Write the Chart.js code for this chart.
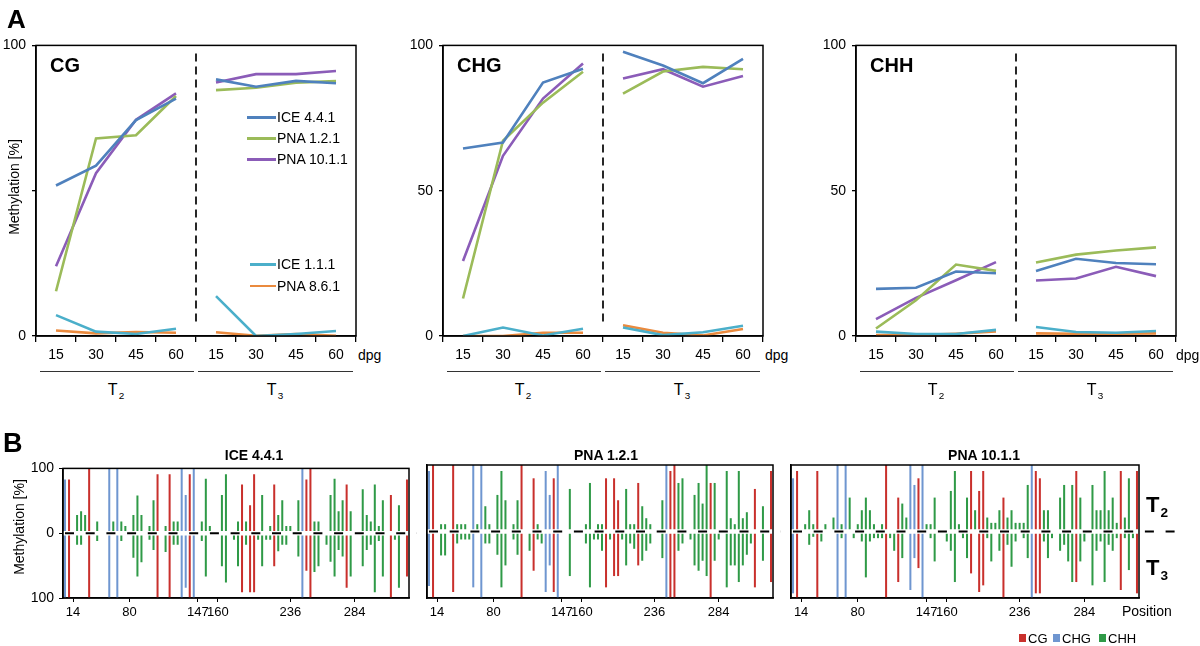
<!DOCTYPE html>
<html lang="en">
<head>
<meta charset="UTF-8">
<title>Methylation</title>
<script src="https://cdn.jsdelivr.net/npm/chart.js"></script>
<style>
    body {
        margin: 0;
        background: #fff;
        font-family: 'Liberation Sans', Arial, sans-serif;
        color: #000;
    }
    #page {
        position: relative;
        width: 1200px;
        height: 646px;
        overflow: hidden;
    }
    .box { position: absolute; }
    .txt { position: absolute; white-space: nowrap; }
    .sub { font-size: 0.62em; position: relative; top: 0.38em; margin-left: 1px; }
    .key { position: absolute; }
</style>
</head>
<body>
<div id="page">
    <div class="box" style="left:0px;top:31px;width:358px;height:335px"><canvas id="cg"></canvas></div>
    <div class="box" style="left:407px;top:31px;width:358px;height:335px"><canvas id="chg"></canvas></div>
    <div class="box" style="left:820px;top:31px;width:358px;height:335px"><canvas id="chh"></canvas></div>
    <div class="box" style="left:27px;top:455px;width:392px;height:165px"><canvas id="b1"></canvas></div>
    <div class="box" style="left:391px;top:455px;width:392px;height:165px"><canvas id="b2"></canvas></div>
    <div class="box" style="left:755px;top:455px;width:422px;height:165px"><canvas id="b3"></canvas></div>
</div>
<script>
    // ---- panel A data (T2 15,30,45,60 then T3 15,30,45,60) ----
    const dpgLabels = ['15', '30', '45', '60', '15', '30', '45', '60'];
    const lineNames = ['ICE 4.4.1', 'PNA 1.2.1', 'PNA 10.1.1', 'ICE 1.1.1', 'PNA 8.6.1'];
    const lineColors = ['#4f81bd', '#9bbb59', '#8b5cb8', '#4bafca', '#ea8a3e'];

    const cgValues = [
        [51.8, 58.6, 74.3, 81.7, 88.3, 85.8, 87.8, 87.0],
        [15.4, 68.0, 69.1, 82.6, 84.6, 85.4, 87.2, 87.7],
        [24.0, 56.0, 74.4, 83.5, 87.2, 90.1, 90.1, 91.2],
        [7.2, 1.5, 0.7, 2.5, 13.7, 0.0, 0.7, 1.7],
        [1.9, 0.9, 1.4, 1.1, 1.3, 0.1, 0.7, 0.1]
    ];
    const chgValues = [
        [64.5, 66.6, 87.2, 92.0, 97.8, 93.1, 87.0, 95.4],
        [12.9, 67.2, 80.3, 90.9, 83.4, 91.0, 92.6, 91.8],
        [25.8, 62.0, 81.7, 93.8, 88.6, 91.8, 85.8, 89.5],
        [0.0, 2.9, 0.2, 2.5, 2.9, 0.3, 1.3, 3.5],
        [0.0, 0.0, 1.1, 1.1, 3.7, 1.1, 0.2, 2.4]
    ];
    const chhValues = [
        [16.2, 16.6, 22.2, 21.6, 22.4, 26.6, 25.1, 24.7],
        [2.6, 12.3, 24.6, 22.4, 25.3, 28.0, 29.4, 30.5],
        [5.8, 13.1, 19.2, 25.4, 19.1, 19.8, 23.8, 20.6],
        [1.5, 0.7, 0.7, 2.1, 3.1, 1.4, 1.1, 1.7],
        [0.3, 0.3, 0.8, 1.6, 0.9, 0.8, 0.8, 0.9]
    ];

    // ---- panel B data: 86 cytosines, T2 up / T3 down ----
    const cgSites = [1, 6, 23, 26, 31, 44, 46, 47, 52, 60, 61, 70, 81, 85];
    const chgSites = [0, 11, 13, 29, 30, 32, 59];
    const positionTicks = { 2: '14', 16: '80', 33: '147', 38: '160', 56: '236', 72: '284' };

    const ice441T2 = [83, 83, 0, 28, 34, 28, 100, 0, 18, 0, 0, 100, 18, 100, 18, 11, 0, 28, 58, 28,
        0, 11, 51, 91, 0, 11, 91, 18, 18, 100, 59, 91, 100, 0, 18, 84, 11, 0, 0, 59,
        91, 0, 0, 18, 75, 18, 43, 91, 0, 59, 0, 11, 75, 28, 51, 11, 11, 0, 51, 100,
        83, 100, 18, 18, 0, 0, 59, 84, 34, 51, 75, 34, 0, 0, 68, 28, 18, 75, 11, 51,
        0, 59, 0, 43, 0, 83];
    const ice441T3 = [100, 100, 0, 18, 18, 0, 100, 0, 12, 0, 0, 100, 0, 100, 12, 0, 0, 38, 67, 45,
        0, 10, 26, 100, 0, 29, 100, 18, 18, 100, 84, 100, 100, 0, 12, 67, 0, 0, 0, 51,
        76, 0, 10, 51, 91, 18, 91, 91, 10, 51, 10, 10, 51, 28, 18, 18, 0, 0, 36, 100,
        58, 100, 60, 51, 0, 18, 44, 67, 26, 36, 84, 67, 0, 0, 51, 26, 18, 91, 12, 67,
        0, 100, 10, 84, 0, 67];
    const pna121T2 = [91, 100, 0, 11, 11, 0, 100, 11, 11, 11, 0, 100, 11, 100, 38, 11, 0, 55, 91, 47,
        0, 11, 47, 100, 0, 0, 80, 11, 0, 91, 55, 80, 100, 0, 0, 64, 0, 0, 0, 11,
        73, 0, 11, 11, 80, 0, 80, 47, 0, 64, 11, 11, 73, 38, 20, 11, 0, 0, 47, 100,
        91, 100, 73, 80, 0, 0, 55, 73, 42, 100, 73, 73, 0, 0, 91, 20, 11, 91, 20, 29,
        0, 64, 0, 38, 0, 91];
    const pna121T3 = [82, 100, 0, 36, 36, 0, 91, 18, 12, 12, 12, 84, 0, 100, 18, 18, 0, 35, 84, 51,
        0, 12, 35, 100, 0, 29, 59, 12, 18, 91, 51, 91, 100, 0, 0, 67, 0, 0, 0, 18,
        84, 12, 12, 29, 84, 12, 67, 67, 12, 51, 18, 26, 51, 44, 29, 18, 0, 0, 40, 100,
        100, 100, 29, 18, 0, 12, 51, 59, 44, 67, 100, 44, 12, 0, 84, 51, 51, 76, 51, 35,
        18, 84, 0, 44, 0, 76];
    const pna1011T2 = [80, 91, 0, 11, 32, 11, 91, 0, 11, 0, 21, 100, 11, 100, 51, 0, 11, 32, 51, 32,
        11, 0, 11, 100, 0, 0, 51, 42, 21, 100, 70, 80, 100, 11, 11, 51, 0, 0, 0, 61,
        91, 11, 0, 51, 91, 32, 61, 91, 21, 13, 13, 32, 51, 21, 32, 13, 13, 13, 70, 100,
        91, 80, 32, 32, 0, 0, 51, 70, 0, 70, 91, 51, 0, 0, 70, 32, 32, 91, 32, 51,
        13, 91, 21, 80, 0, 91];
    const pna1011T3 = [93, 100, 0, 0, 20, 8, 100, 15, 0, 0, 0, 100, 10, 100, 0, 10, 0, 15, 69, 15,
        10, 10, 10, 100, 10, 29, 76, 40, 0, 88, 40, 55, 100, 0, 10, 45, 0, 0, 15, 29,
        76, 0, 10, 40, 63, 0, 91, 81, 10, 45, 0, 29, 100, 20, 53, 15, 0, 10, 40, 100,
        93, 93, 15, 40, 10, 0, 29, 20, 45, 76, 76, 45, 15, 0, 81, 29, 15, 76, 20, 29,
        10, 88, 10, 58, 10, 93];

    const contextColors = { CG: '#c9302c', CHG: '#6f96d0', CHH: '#2f9a47' };
    const FONT = "'Liberation Sans', Arial, sans-serif";

    const siteColors = ice441T2.map((v, i) =>
        cgSites.includes(i) ? contextColors.CG : (chgSites.includes(i) ? contextColors.CHG : contextColors.CHH));
    const posLabels = ice441T2.map((v, i) => positionTicks[i] || '');

    // black frame round the plot area
    const frameBox = {
        id: 'frameBox',
        afterDraw(chart) {
            const a = chart.chartArea, c = chart.ctx;
            c.save();
            c.strokeStyle = '#000';
            c.lineWidth = 1.5;
            c.strokeRect(a.left, a.top, a.right - a.left, a.bottom - a.top);
            c.restore();
        }
    };

    // dashed divider between T2 and T3
    const midDash = {
        id: 'midDash',
        beforeDatasetsDraw(chart) {
            const xs = chart.scales.x, a = chart.chartArea, c = chart.ctx;
            const x = (xs.getPixelForValue(3) + xs.getPixelForValue(4)) / 2;
            c.save();
            c.strokeStyle = '#111';
            c.lineWidth = 1.8;
            c.setLineDash([8, 5]);
            c.beginPath();
            c.moveTo(x, a.top + 8);
            c.lineTo(x, a.bottom - 11);
            c.stroke();
            c.restore();
        }
    };

    // white gap + dashed zero line in panel B
    const zeroDash = {
        id: 'zeroDash',
        afterDatasetsDraw(chart, args, opts) {
            const a = chart.chartArea, c = chart.ctx;
            const y = chart.scales.y.getPixelForValue(0);
            c.save();
            c.strokeStyle = '#fff';
            c.lineWidth = 4.5;
            c.beginPath();
            c.moveTo(a.left, y);
            c.lineTo(a.right, y);
            c.stroke();
            c.strokeStyle = '#000';
            c.lineWidth = 2;
            c.setLineDash([9, 11.7]);
            c.beginPath();
            c.moveTo(a.left + 2, y);
            c.lineTo(a.right + (opts.ext || 0), y);
            c.stroke();
            c.restore();
        }
    };

    function lineChart(id, values, showMid) {
        new Chart(document.getElementById(id), {
            type: 'line',
            data: {
                labels: dpgLabels,
                datasets: values.map((v, i) => ({
                    label: lineNames[i],
                    data: v,
                    borderColor: lineColors[i],
                    borderWidth: 2.6,
                    pointRadius: 0,
                    tension: 0,
                    fill: false,
                    segment: {
                        borderColor: c => c.p0DataIndex === 3 ? 'rgba(0,0,0,0)' : undefined
                    }
                }))
            },
            options: {
                responsive: true,
                maintainAspectRatio: false,
                animation: false,
                layout: { padding: { top: 10, right: 2, left: 0, bottom: 0 } },
                plugins: { legend: { display: false }, tooltip: { enabled: false } },
                scales: {
                    x: {
                        offset: true,
                        grid: { offset: true, drawOnChartArea: false, tickLength: 6, color: '#000', lineWidth: 1.3 },
                        border: { color: '#000', width: 1.5 },
                        ticks: { color: '#000', font: { size: 14, family: FONT }, padding: 5, maxRotation: 0 },
                        afterFit: s => { s.height = 30; }
                    },
                    y: {
                        min: 0,
                        max: 100,
                        grid: { drawOnChartArea: false, tickLength: 4, color: '#000', lineWidth: 1.3 },
                        border: { color: '#000', width: 1.5 },
                        ticks: {
                            stepSize: 50,
                            color: '#000',
                            font: { size: 14, family: FONT },
                            padding: 6,
                            callback: v => (showMid || v !== 50) ? v : ''
                        },
                        afterFit: s => { s.width = 36; }
                    }
                }
            },
            plugins: [midDash, frameBox]
        });
    }

    function barChart(id, up, down, showY, ext) {
        new Chart(document.getElementById(id), {
            type: 'bar',
            data: {
                labels: posLabels,
                datasets: [
                    { label: 'T2', data: up, backgroundColor: siteColors },
                    { label: 'T3', data: down.map(v => -v), backgroundColor: siteColors }
                ]
            },
            options: {
                responsive: true,
                maintainAspectRatio: false,
                animation: false,
                layout: { padding: { top: 10, right: ext + 2, left: 0, bottom: 0 } },
                plugins: {
                    legend: { display: false },
                    tooltip: { enabled: false },
                    zeroDash: { ext: ext }
                },
                datasets: { bar: { barPercentage: 0.5, categoryPercentage: 1 } },
                scales: {
                    x: {
                        stacked: true,
                        grid: {
                            offset: false,
                            drawOnChartArea: false,
                            tickLength: 4,
                            color: c => posLabels[c.index] ? '#000' : 'rgba(0,0,0,0)'
                        },
                        border: { color: '#000', width: 1.5 },
                        ticks: {
                            autoSkip: false, maxRotation: 0, minRotation: 0,
                            color: '#000', font: { size: 13, family: FONT }, padding: 3
                        },
                        afterFit: s => { s.height = 22; }
                    },
                    y: {
                        stacked: true,
                        min: -100,
                        max: 100,
                        grid: { drawOnChartArea: false, drawTicks: showY, tickLength: 4, color: '#000' },
                        border: { color: '#000', width: 1.5 },
                        ticks: {
                            display: showY,
                            stepSize: 100,
                            color: '#000',
                            font: { size: 14, family: FONT },
                            padding: 5,
                            callback: v => Math.abs(v)
                        },
                        afterFit: s => { s.width = 36; }
                    }
                }
            },
            plugins: [zeroDash, frameBox]
        });
    }

    lineChart('cg', cgValues, false);
    lineChart('chg', chgValues, true);
    lineChart('chh', chhValues, true);

    barChart('b1', ice441T2, ice441T3, true, 8);
    barChart('b2', pna121T2, pna121T3, false, 8);
    barChart('b3', pna1011T2, pna1011T3, false, 36);

    // ---- text and keys round the charts ----
    const page = document.getElementById('page');

    function addText(html, x, cy, size, opts = {}) {
        const d = document.createElement('div');
        const lh = size + 4;
        d.className = 'txt';
        d.innerHTML = html;
        d.style.fontSize = size + 'px';
        d.style.lineHeight = lh + 'px';
        d.style.left = x + 'px';
        d.style.top = (cy - lh / 2) + 'px';
        if (opts.bold) d.style.fontWeight = 'bold';
        if (opts.rotate) d.style.transform = 'translateX(-50%) rotate(-90deg)';
        else if (opts.center) d.style.transform = 'translateX(-50%)';
        page.appendChild(d);
        return d;
    }

    function addLine(x1, x2, y, color, h) {
        const d = document.createElement('div');
        d.className = 'key';
        d.style.left = x1 + 'px';
        d.style.width = (x2 - x1) + 'px';
        d.style.top = (y - h / 2) + 'px';
        d.style.height = h + 'px';
        d.style.background = color;
        page.appendChild(d);
    }

    addText('A', 7, 19, 26, { bold: true });
    addText('B', 3, 443, 27, { bold: true });

    addText('Methylation [%]', 14, 187, 14, { rotate: true });
    addText('Methylation [%]', 19, 527, 14, { rotate: true });

    // panel A titles, dpg, T2/T3 groups
    const areaLefts = [36, 443, 856];
    const contextNames = ['CG', 'CHG', 'CHH'];
    areaLefts.forEach((L, i) => {
        addText(contextNames[i], L + 14, 64.5, 20, { bold: true });
        addText('dpg', L + (i === 2 ? 320 : 322), 355, 14);
        addLine(L + 4, L + 158, 371, '#333', 1);
        addLine(L + 162, L + 317, 371, '#333', 1);
        addText('T<span class="sub">2</span>', L + 80, 390, 16, { center: true });
        addText('T<span class="sub">3</span>', L + 239, 390, 16, { center: true });
    });

    // legend inside CG chart
    const legendRows = [[0, 117.3], [1, 138.3], [2, 159.3], [3, 264.3], [4, 286]];
    legendRows.forEach(([k, y]) => {
        addLine(k < 3 ? 247 : 250, 276, y, lineColors[k], 2.6);
        addText(lineNames[k], 277, y, 14);
    });

    // panel B titles and labels
    addText('ICE 4.4.1', 254, 455, 14, { bold: true, center: true });
    addText('PNA 1.2.1', 606, 455, 14, { bold: true, center: true });
    addText('PNA 10.1.1', 984, 455, 14, { bold: true, center: true });
    addText('Position', 1122, 611, 14);
    addText('T<span class="sub">2</span>', 1146, 505, 22, { bold: true });
    addText('T<span class="sub">3</span>', 1146, 568, 22, { bold: true });

    // context key
    const keyItems = [['CG', 1019], ['CHG', 1053], ['CHH', 1099]];
    keyItems.forEach(([name, x]) => {
        const sq = document.createElement('div');
        sq.className = 'key';
        sq.style.left = x + 'px';
        sq.style.top = '634px';
        sq.style.width = '7px';
        sq.style.height = '8px';
        sq.style.background = contextColors[name];
        page.appendChild(sq);
        addText(name, x + 9, 638, 13);
    });
</script>
</body>
</html>
